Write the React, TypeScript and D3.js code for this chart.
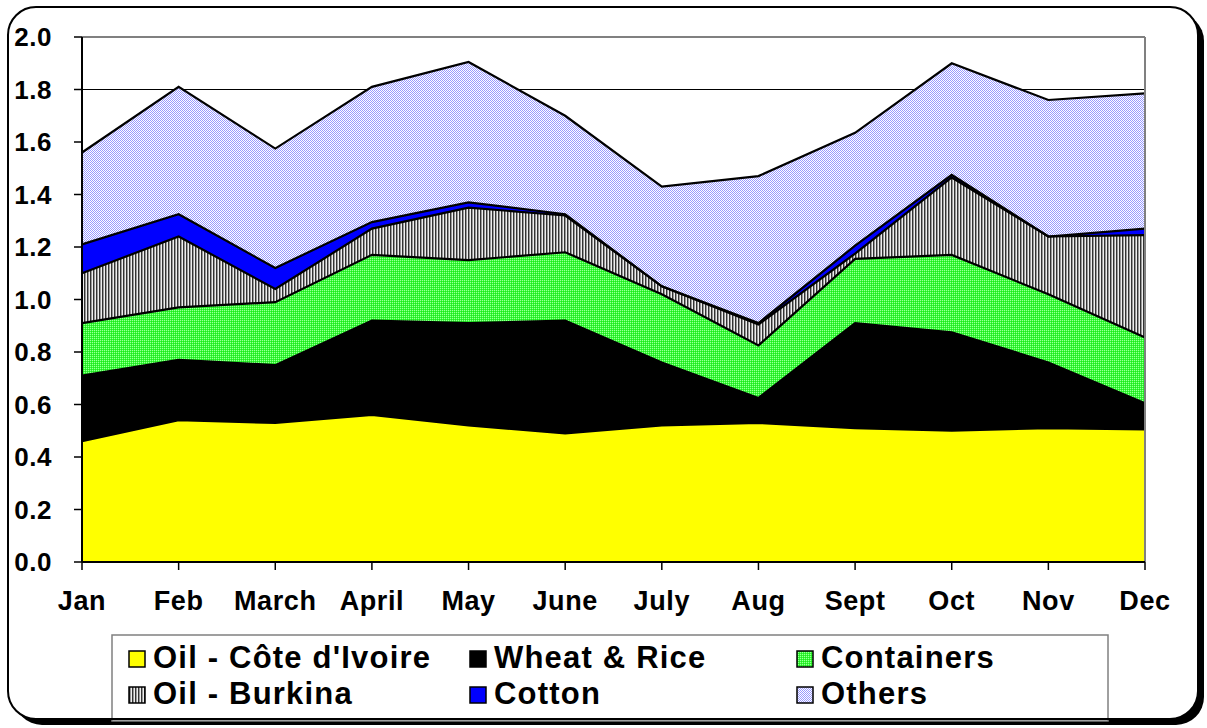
import React from "react";
import * as d3 from "d3";

const months = ["Jan", "Feb", "March", "April", "May", "June", "July", "Aug", "Sept", "Oct", "Nov", "Dec"];
const oilCI = [0.46, 0.54, 0.53, 0.56, 0.52, 0.49, 0.52, 0.53, 0.51, 0.50, 0.51, 0.505];
const wheatRice = [0.25, 0.23, 0.22, 0.36, 0.39, 0.43, 0.24, 0.095, 0.40, 0.375, 0.25, 0.10];
const containers = [0.20, 0.20, 0.24, 0.25, 0.24, 0.26, 0.26, 0.20, 0.245, 0.295, 0.26, 0.25];
const oilBurkina = [0.19, 0.27, 0.05, 0.10, 0.20, 0.14, 0.03, 0.08, 0.02, 0.295, 0.22, 0.39];
const cotton = [0.11, 0.085, 0.08, 0.025, 0.02, 0.005, 0.0, 0.005, 0.03, 0.01, 0.0, 0.025];
const others = [0.35, 0.485, 0.455, 0.515, 0.535, 0.375, 0.38, 0.56, 0.43, 0.425, 0.52, 0.515];
const yTicks = [0, 0.2, 0.4, 0.6, 0.8, 1.0, 1.2, 1.4, 1.6, 1.8, 2.0];
const gridValues = [0.6, 1.2, 1.8];

const seriesNames = ["Oil - Côte d'Ivoire", "Wheat & Rice", "Containers", "Oil - Burkina", "Cotton", "Others"];
const seriesData = [oilCI, wheatRice, containers, oilBurkina, cotton, others];
const fills = ["#ffff00", "#000000", "url(#pGreen)", "url(#pStripe)", "#0000ff", "url(#pBlue)"];

const FONT = "'Liberation Sans', Arial, sans-serif";

export default function App() {
  const left = 82, right = 1145, top = 37, bottom = 562;
  const x = d3.scalePoint<string>().domain(months).range([left, right]);
  const y = d3.scaleLinear().domain([0, 2]).range([bottom, top]);

  const rows = months.map((m, i) => {
    const r: any = { month: m };
    seriesNames.forEach((s, j) => (r[s] = seriesData[j][i]));
    return r;
  });
  const stacked = d3.stack<any>().keys(seriesNames)(rows);
  const area = d3
    .area<any>()
    .x((d) => x(d.data.month) as number)
    .y0((d) => y(d[0]))
    .y1((d) => y(d[1]));
  const topLine = d3
    .line<any>()
    .x((d) => x(d.data.month) as number)
    .y((d) => y(d[1]));

  const legendCols = [129, 470, 797];
  const legendRows = [651, 687];

  return (
    <svg width={1207} height={728} style={{ position: "absolute", left: 0, top: 0 }}>
      <defs>
        <pattern id="pBlue" width={2} height={2} patternUnits="userSpaceOnUse">
          <rect width={2} height={2} fill="#ffffff" />
          <rect width={1} height={1} fill="#9999ff" />
          <rect x={1} y={1} width={1} height={1} fill="#9999ff" />
        </pattern>
        <pattern id="pGreen" width={2} height={2} patternUnits="userSpaceOnUse">
          <rect width={2} height={2} fill="#33ff33" />
          <rect width={1} height={1} fill="#99ff99" />
          <rect x={1} y={1} width={1} height={1} fill="#22dd22" />
        </pattern>
        <pattern id="pStripe" width={3} height={3} patternUnits="userSpaceOnUse">
          <rect width={3} height={3} fill="#999999" />
          <rect x={0} width={1} height={3} fill="#333333" />
          <rect x={2} width={1} height={3} fill="#eeeeee" />
        </pattern>
      </defs>
      <rect x={0} y={0} width={1207} height={728} fill="#ffffff" />
      <rect x={14} y={13} width={1190} height={712} rx={28} ry={28} fill="#000000" />
      <rect x={8} y={7} width={1190} height={712} rx={28} ry={28} fill="#ffffff" stroke="none" />

      {gridValues.map((t) => (
        <line key={"g" + t} x1={left} x2={right} y1={y(t)} y2={y(t)} stroke="#000" strokeWidth={1} />
      ))}

      {stacked.map((s, i) => (
        <path key={"a" + i} d={area(s) as string} fill={fills[i]} stroke="none" />
      ))}
      {stacked.map((s, i) => (
        <path key={"l" + i} d={topLine(s) as string} fill="none" stroke="#000" strokeWidth={2.2} strokeLinejoin="miter" />
      ))}

      <line x1={left} x2={right} y1={top} y2={top} stroke="#808080" strokeWidth={2} />
      <line x1={right} x2={right} y1={top} y2={bottom} stroke="#808080" strokeWidth={2} />

      <line x1={left} x2={left} y1={top} y2={bottom} stroke="#000" strokeWidth={2} />
      <line x1={left} x2={right} y1={bottom} y2={bottom} stroke="#000" strokeWidth={2} />
      {yTicks.map((t) => (
        <g key={"yt" + t}>
          <line x1={left - 8} x2={left} y1={y(t)} y2={y(t)} stroke="#000" strokeWidth={1.5} />
          <text x={52} y={y(t)} dy="0.36em" textAnchor="end" fontFamily={FONT} fontWeight="bold" fontSize={26} letterSpacing={0.5} fill="#000">
            {t.toFixed(1)}
          </text>
        </g>
      ))}
      {months.map((m) => (
        <g key={"xt" + m}>
          <line x1={x(m)} x2={x(m)} y1={bottom} y2={bottom + 8} stroke="#000" strokeWidth={1.5} />
          <text x={x(m)} y={610} textAnchor="middle" fontFamily={FONT} fontWeight="bold" fontSize={27} letterSpacing={0.6} fill="#000">
            {m}
          </text>
        </g>
      ))}

      <rect x={112} y={635} width={996} height={86} fill="#ffffff" stroke="#808080" strokeWidth={1.5} />
      {seriesNames.map((s, i) => {
        const cx = legendCols[i % 3];
        const cy = legendRows[Math.floor(i / 3)];
        return (
          <g key={"lg" + i}>
            <rect x={cx} y={cy} width={16} height={16} fill={fills[i]} stroke="#000" strokeWidth={1.5} />
            <text x={cx + 24} y={cy + 17} fontFamily={FONT} fontWeight="bold" fontSize={31} letterSpacing={1.2} fill="#000">
              {s}
            </text>
          </g>
        );
      })}

      <rect x={8} y={7} width={1190} height={712} rx={28} ry={28} fill="none" stroke="#000" strokeWidth={2} />
    </svg>
  );
}
